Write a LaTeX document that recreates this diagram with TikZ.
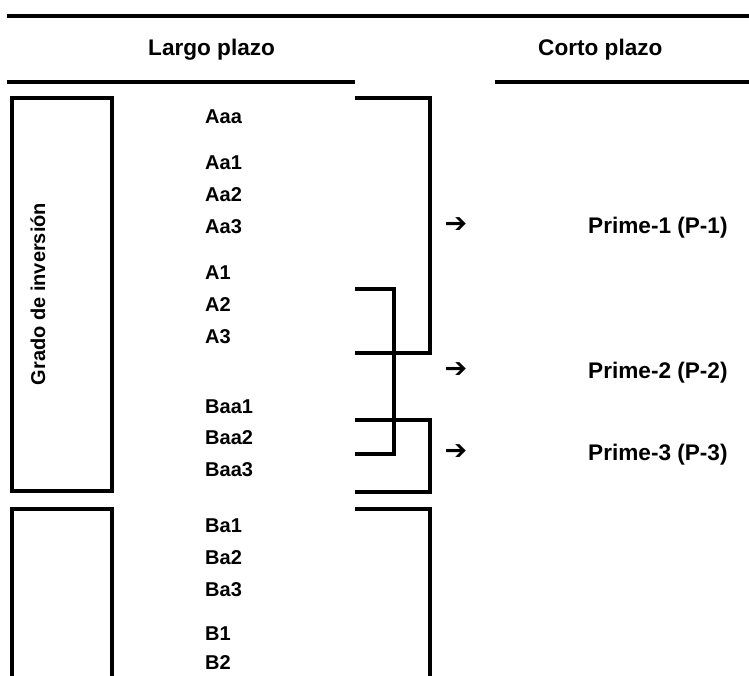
\documentclass[tikz,border=0pt]{standalone}
\usepackage{fontspec}
\setmainfont{Liberation Sans}
\newfontfamily\arrowfont{DejaVu Sans}
\usetikzlibrary{positioning,calc}

\begin{document}
\begin{tikzpicture}[
  x=1pt, y=-1pt,
  rule/.style={line width=4.5pt},
  frame/.style={draw, line width=4pt},
  bracket/.style={line width=4.5pt},
  head/.style={font=\fontsize{22.6}{27}\selectfont\bfseries, inner sep=0pt, anchor=base west},
  rating/.style={font=\fontsize{20}{24}\selectfont\bfseries, inner sep=0pt, anchor=west},
  prime/.style={font=\fontsize{22.6}{27}\selectfont\bfseries, inner sep=0pt, anchor=base west},
  pointer/.style={font=\arrowfont\bfseries\fontsize{27}{30}\selectfont, inner sep=0pt}
]
\useasboundingbox (0,0) rectangle (749,675);

% header
\draw[rule] (7,16) -- (749,16);
\node[head] (largo) at (148,55) {Largo plazo};
\node[head] (corto) at (538,55) {Corto plazo};
\draw[rule] (7,82) -- (355,82);
\draw[rule] (495,82) -- (749,82);

% left frames
\draw[frame] (12,98) rectangle (112,491);
\draw[frame] (112,690) |- (12,509) -- (12,690);
\node[font=\fontsize{20}{24}\selectfont\bfseries, rotate=90, inner sep=0pt] (grado) at (38,294) {Grado de inversi\'on};

% ratings
\foreach \n/\t/\y in {aaa/Aaa/117, aai/Aa1/163, aaii/Aa2/195, aaiii/Aa3/227,
                      ai/A1/273, aii/A2/305, aiii/A3/337,
                      baai/Baa1/407, baaii/Baa2/438, baaiii/Baa3/470,
                      bai/Ba1/526, baii/Ba2/558, baiii/Ba3/590,
                      bi/B1/634, bii/B2/663} {
  \node[rating] (\n) at (205,\y) {\t};
}

% brackets
\draw[bracket] (355,98) -- (430,98) -- (430,353) -- (355,353);
\draw[bracket] (355,289) -- (394,289) -- (394,454) -- (355,454);
\draw[bracket] (355,420) -- (430,420) -- (430,492) -- (355,492);
\draw[bracket] (355,509) -- (430,509) -- (430,690);

% short term
\foreach \n/\i/\y in {pi/1/225, pii/2/370, piii/3/452} {
  \node[pointer] (a\n) at (456,\y) {➔};
  \node[prime] (\n) at (588,\y+8) {Prime-\i\ (P-\i)};
}
\end{tikzpicture}
\end{document}
